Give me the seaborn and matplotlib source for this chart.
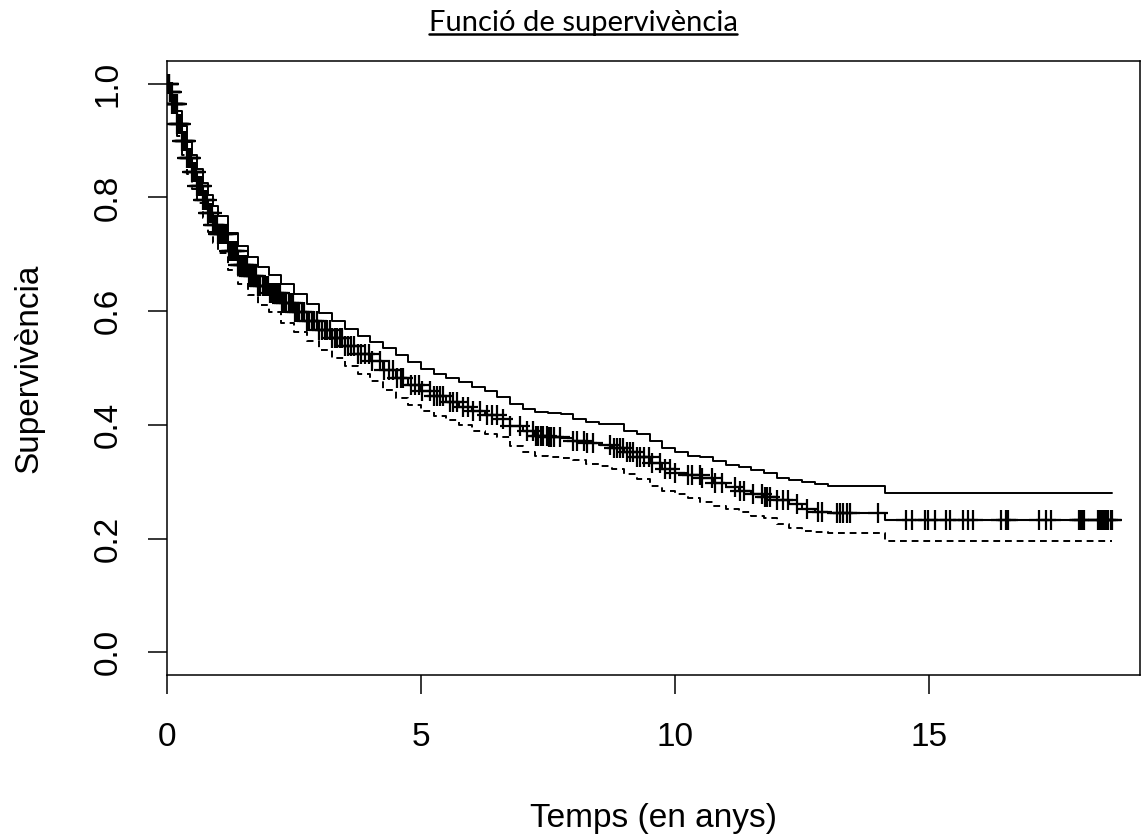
import numpy as np
import pandas as pd
import matplotlib
matplotlib.use("Agg")
import matplotlib.pyplot as plt
from matplotlib.lines import Line2D
import seaborn as sns

# ---- data ----
time = [0, 0.05, 0.1, 0.2, 0.3, 0.4, 0.5, 0.6, 0.7, 0.8, 0.9, 1.0,
        1.2, 1.4, 1.6, 1.8, 2.0, 2.25, 2.5, 2.75, 3.0,
        3.25, 3.5, 3.75, 4.0, 4.25, 4.5, 4.75, 5.0,
        5.25, 5.5, 5.75, 6.0, 6.25, 6.5, 6.75, 7.0,
        7.25, 7.5, 7.75, 8.0, 8.25, 8.5, 8.75, 9.0,
        9.25, 9.5, 9.75, 10.0, 10.25, 10.5, 10.75, 11.0,
        11.25, 11.5, 11.75, 12.0, 12.25, 12.5, 12.75, 13.0,
        14.13, 18.6]
surv = [1.0, 0.985, 0.965, 0.93, 0.90, 0.87, 0.845, 0.82, 0.795, 0.772, 0.752, 0.735,
        0.705, 0.682, 0.662, 0.645, 0.632, 0.615, 0.598, 0.582, 0.566,
        0.552, 0.538, 0.525, 0.512, 0.497, 0.482, 0.47, 0.46,
        0.45, 0.44, 0.432, 0.425, 0.418, 0.41, 0.398, 0.39,
        0.38, 0.378, 0.376, 0.372, 0.368, 0.364, 0.36, 0.352,
        0.343, 0.333, 0.323, 0.316, 0.311, 0.306, 0.298, 0.29,
        0.284, 0.279, 0.273, 0.267, 0.26, 0.252, 0.246, 0.245,
        0.232, 0.232]
upper = [1.0, 0.995, 0.98, 0.952, 0.925, 0.898, 0.875, 0.85, 0.826, 0.804, 0.785, 0.767,
         0.738, 0.714, 0.695, 0.678, 0.664, 0.647, 0.63, 0.613, 0.597,
         0.583, 0.569, 0.556, 0.545, 0.535, 0.522, 0.511, 0.499,
         0.489, 0.482, 0.476, 0.466, 0.459, 0.449, 0.436, 0.428,
         0.423, 0.42, 0.419, 0.411, 0.405, 0.402, 0.401, 0.39,
         0.384, 0.371, 0.36, 0.352, 0.346, 0.343, 0.336, 0.33,
         0.325, 0.32, 0.315, 0.306, 0.303, 0.30, 0.296, 0.293,
         0.281, 0.281]
lower = [1.0, 0.975, 0.95, 0.908, 0.875, 0.842, 0.815, 0.79, 0.764, 0.74, 0.72, 0.703,
         0.672, 0.648, 0.628, 0.611, 0.598, 0.58, 0.563, 0.547, 0.532,
         0.517, 0.503, 0.49, 0.477, 0.462, 0.447, 0.435, 0.424,
         0.415, 0.408, 0.399, 0.39, 0.384, 0.378, 0.362, 0.352,
         0.345, 0.343, 0.341, 0.338, 0.332, 0.327, 0.322, 0.313,
         0.304, 0.292, 0.284, 0.278, 0.271, 0.265, 0.258, 0.252,
         0.247, 0.24, 0.236, 0.225, 0.219, 0.214, 0.212, 0.21,
         0.195, 0.195]

censor_times = [0.01, 0.02, 0.03, 0.04, 0.05, 0.06, 0.07, 0.08, 0.09, 0.10, 0.11, 0.12,
                0.135, 0.15, 0.165, 0.18, 0.19, 0.20, 0.215, 0.23, 0.245, 0.26, 0.28,
                0.30, 0.315, 0.33, 0.345, 0.36, 0.38, 0.40, 0.415, 0.43, 0.445, 0.46,
                0.48, 0.50, 0.52, 0.54, 0.56, 0.58, 0.60, 0.62, 0.64, 0.66, 0.68, 0.70,
                0.72, 0.75, 0.78, 0.80, 0.83, 0.85, 0.88, 0.90, 0.93, 0.95, 0.98,
                1.00, 1.03, 1.05, 1.08, 1.10, 1.13, 1.16, 1.19, 1.22, 1.25, 1.28,
                1.31, 1.34, 1.37, 1.40, 1.43, 1.46, 1.49, 1.52, 1.55, 1.58, 1.62,
                1.65, 1.69, 1.72, 1.76, 1.80, 1.84, 1.88, 1.92, 1.95, 1.99, 2.02,
                2.06, 2.10, 2.14, 2.18, 2.22, 2.26, 2.30, 2.35, 2.40, 2.44, 2.48,
                2.52, 2.56, 2.60, 2.65, 2.70, 2.75, 2.80, 2.85, 2.90, 2.95, 3.00,
                3.05, 3.10, 3.15, 3.20, 3.25, 3.30, 3.35,
                3.41, 3.45, 3.50, 3.56, 3.62, 3.68, 3.75, 3.82, 3.90, 3.97, 4.04,
                4.19, 4.28, 4.36, 4.44, 4.52, 4.60, 4.65, 4.81, 4.88, 4.95, 5.01,
                5.18, 5.25, 5.31, 5.37, 5.44, 5.57, 5.63, 5.70, 5.83, 5.93, 6.03,
                6.16, 6.29, 6.39, 6.49, 6.62, 6.75, 6.95, 7.08, 7.21, 7.26, 7.31,
                7.36, 7.41, 7.47, 7.52, 7.56, 7.61, 7.74, 8.00, 8.06, 8.20, 8.26,
                8.39, 8.72, 8.79, 8.85, 8.92, 8.98, 9.05, 9.12, 9.18, 9.25, 9.31,
                9.38, 9.48, 9.54, 9.71, 9.80, 9.90, 10.00, 10.26, 10.33, 10.49,
                10.53, 10.72, 10.79, 10.92, 11.18, 11.28, 11.35, 11.54, 11.71,
                11.76, 11.80, 11.87, 12.00, 12.13, 12.23, 12.39, 12.59, 12.82,
                12.89, 13.18, 13.25, 13.31, 13.38, 13.45, 14.00,
                14.55, 14.67, 14.92, 14.98, 15.12, 15.33, 15.41, 15.67, 15.77,
                15.87, 16.42, 16.52, 16.56, 17.17, 17.30, 17.40, 17.94, 17.97,
                18.00, 18.04, 18.33, 18.37, 18.41, 18.45, 18.49, 18.53, 18.57, 18.60]

x_ticks = [0, 5, 10, 15]
y_ticks = [0.0, 0.2, 0.4, 0.6, 0.8, 1.0]
y_tick_labels = ["0.0", "0.2", "0.4", "0.6", "0.8", "1.0"]

title_text = "Funció de supervivència"
x_label = "Temps (en anys)"
y_label = "Supervivència"

# ---- styling ----
sns.set_style("white")
plt.rcParams["font.family"] = ["Liberation Sans", "DejaVu Sans"]

fig = plt.figure(figsize=(11.42, 8.38), dpi=100)
ax = fig.add_axes([167 / 1142, 1 - 675 / 838, (1140 - 167) / 1142, (675 - 61) / 838])

df = pd.DataFrame({"time": time, "surv": surv, "upper": upper, "lower": lower})

sns.lineplot(data=df, x="time", y="surv", drawstyle="steps-post", estimator=None,
             color="black", linewidth=1.5, ax=ax)
sns.lineplot(data=df, x="time", y="upper", drawstyle="steps-post", estimator=None,
             color="black", linewidth=1.4, ax=ax)
sns.lineplot(data=df, x="time", y="lower", drawstyle="steps-post", estimator=None,
             color="black", linewidth=1.4, linestyle=(0, (3.5, 2.5)), ax=ax)

# censor marks on the step function
t_arr = np.asarray(time)
s_arr = np.asarray(surv)
ct = np.asarray(censor_times)
idx = np.searchsorted(t_arr, ct, side="right") - 1
cdf = pd.DataFrame({"time": ct, "surv": s_arr[idx]})
sns.scatterplot(data=cdf, x="time", y="surv", marker="+", s=15 ** 2,
                color="black", linewidth=1.6, ax=ax, zorder=3)

ax.set_xlim(0, 19.15)
ax.set_ylim(-0.04, 1.04)
ax.set_xticks(x_ticks)
ax.set_xticklabels([str(v) for v in x_ticks])
ax.set_yticks(y_ticks)
ax.set_yticklabels(y_tick_labels, rotation=90, va="center")

for sp in ax.spines.values():
    sp.set_visible(True)
    sp.set_color("black")
    sp.set_linewidth(1.1)

ax.tick_params(axis="both", which="major", direction="out", length=14, width=1.1,
               color="black", labelsize=24, labelcolor="black",
               bottom=True, left=True, top=False, right=False)
ax.tick_params(axis="x", pad=20)
ax.tick_params(axis="y", pad=17)
ax.set_xlabel(x_label, fontsize=24, labelpad=36, color="black")
ax.set_ylabel(y_label, fontsize=24, labelpad=35, color="black")
ax.grid(False)

# title (separate, underlined)
ttl = fig.text(583 / 1142, 1 - 23 / 838, title_text, ha="center", va="center",
               fontsize=21, family=["Lato", "DejaVu Sans"], color="black")
fig.canvas.draw()
bb = ttl.get_window_extent(renderer=fig.canvas.get_renderer())
inv = fig.transFigure.inverted()
(x0, y0), (x1, y1) = inv.transform([(bb.x0, bb.y0), (bb.x1, bb.y1)])
fig.add_artist(Line2D([x0, x1], [y0 + 0.002, y0 + 0.002], transform=fig.transFigure,
                      color="black", linewidth=1.8))

fig.savefig("out.png", dpi=100, facecolor="white")
